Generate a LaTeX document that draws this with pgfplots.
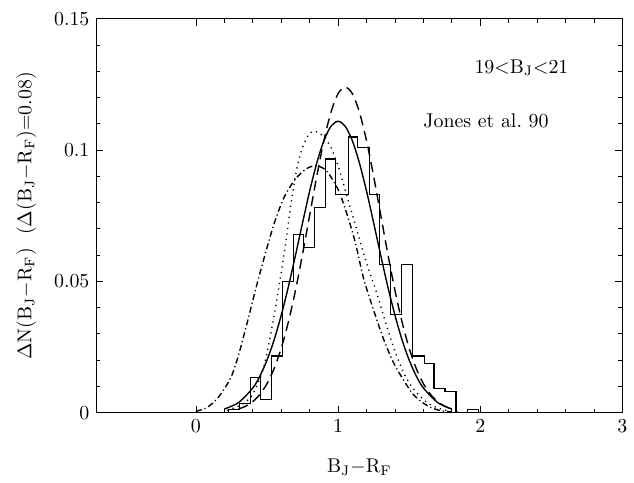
\documentclass[border=0pt]{standalone}
\usepackage{pgfplots}
\pgfplotsset{compat=1.18}
\usetikzlibrary{calc}
\begin{document}
\begin{tikzpicture}
\begin{axis}[
  scale only axis,
  width=264.5pt, height=198pt,
  xmin=-0.7, xmax=3, ymin=0, ymax=0.15,
  xtick={0,1,2,3}, ytick={0,0.05,0.1,0.15},
  yticklabels={0,0.05,0.1,0.15},
  minor x tick num=4, minor y tick num=4,
  tick align=inside, tick pos=both,
  major tick length=3.5pt, minor tick length=2pt,
  axis line style={line width=0.5pt},
  every tick/.style={line width=0.4pt, black},
  xlabel={B$_\mathrm{J}$$-$R$_\mathrm{F}$},
  ylabel={$\Delta$N(B$_\mathrm{J}$$-$R$_\mathrm{F}$)\ \ ($\Delta$(B$_\mathrm{J}$$-$R$_\mathrm{F}$)=0.08)},
  xlabel style={yshift=-6.5pt},
  ylabel style={yshift=2pt},
  clip=true,
]
\coordinate (bl) at (rel axis cs:0,0);
\coordinate (tr) at (rel axis cs:1,1);
% histogram
\addplot[const plot, line width=0.6pt, black] coordinates {
(0.231,0) (0.231,0.0012) (0.308,0.0034) (0.385,0.0133) (0.456,0.0049)
(0.533,0.0216) (0.610,0.050) (0.687,0.068) (0.757,0.063) (0.834,0.078)
(0.911,0.0966) (0.981,0.083) (1.072,0.105) (1.135,0.101) (1.219,0.083)
(1.289,0.0564) (1.367,0.0375) (1.444,0.0564) (1.521,0.0216) (1.605,0.0186)
(1.675,0.0091) (1.752,0.008) (1.829,0.008) (1.829,0)
};
\addplot[line width=0.5pt, black] coordinates {
(1.913,0) (1.913,0.0011) (1.990,0.0011) (1.990,0)
};
% solid model
\addplot[smooth, line width=0.7pt, black] coordinates {
(0.20,0.00138) (0.30,0.00385) (0.40,0.0094) (0.45,0.01394) (0.50,0.0200)
(0.55,0.0277) (0.60,0.0371) (0.65,0.0479) (0.70,0.0599) (0.75,0.0723)
(0.80,0.0844) (0.85,0.0951) (0.90,0.1036) (0.95,0.1091) (1.00,0.111)
(1.05,0.1091) (1.10,0.1036) (1.15,0.0951) (1.20,0.0844) (1.25,0.0723)
(1.30,0.0599) (1.35,0.0479) (1.40,0.0371) (1.45,0.0277) (1.50,0.0200)
(1.55,0.01394) (1.60,0.0094) (1.70,0.00385) (1.80,0.00138)
};
% dashed model
\addplot[smooth, line width=0.7pt, black, dash pattern=on 5pt off 3pt] coordinates {
(0.30,0.00138) (0.35,0.00246) (0.40,0.00422) (0.45,0.00696) (0.50,0.01103)
(0.55,0.01678) (0.60,0.02454) (0.65,0.03447) (0.70,0.04654) (0.75,0.06036)
(0.80,0.07521) (0.85,0.09004) (0.90,0.10358) (0.95,0.11446) (1.00,0.12154)
(1.05,0.124) (1.10,0.12154) (1.15,0.11446) (1.20,0.10358) (1.25,0.09004)
(1.30,0.07521) (1.35,0.06036) (1.40,0.04654) (1.45,0.03447) (1.50,0.02454)
(1.55,0.01678) (1.60,0.01103) (1.65,0.00696) (1.70,0.00422) (1.75,0.00246)
(1.80,0.00138)
};
% dotted model
\addplot[smooth, line width=0.7pt, black, dash pattern=on 0.6pt off 2.2pt] coordinates {
(0.22,0.0008) (0.30,0.0025) (0.36,0.0045) (0.41,0.0080) (0.48,0.0180)
(0.54,0.0340) (0.59,0.0500) (0.63,0.0640) (0.67,0.0800) (0.71,0.0930)
(0.75,0.1010) (0.80,0.1065) (0.85,0.1070) (0.90,0.1050) (0.95,0.1010)
(1.00,0.0940) (1.065,0.0820) (1.135,0.0690) (1.20,0.0570) (1.275,0.0450)
(1.33,0.0350) (1.39,0.0250) (1.45,0.0165) (1.51,0.0105) (1.577,0.0062)
(1.65,0.0030) (1.75,0.0010) (1.85,0.0003)
};
% dash-dot model
\addplot[smooth, line width=0.7pt, black, dash pattern=on 3pt off 1.5pt on 0.6pt off 1.5pt] coordinates {
(0.0,0.0005) (0.08,0.002) (0.16,0.006) (0.245,0.0133) (0.30,0.022)
(0.364,0.035) (0.42,0.047) (0.48,0.059) (0.55,0.072) (0.62,0.082)
(0.70,0.089) (0.78,0.093) (0.85,0.094) (0.92,0.092) (1.0,0.085)
(1.06,0.076) (1.12,0.065) (1.18,0.051) (1.25,0.039) (1.32,0.028)
(1.39,0.019) (1.465,0.012) (1.52,0.0075) (1.577,0.0045) (1.65,0.002)
(1.72,0.0008) (1.8,0.0002)
};
\node at (axis cs:2.29,0.1314) {19$<$B$_\mathrm{J}$$<$21};
\node at (axis cs:2.04,0.111) {Jones et al.\ 90};
\end{axis}
\useasboundingbox ($(bl)+(-48.5pt,-27pt)$) rectangle ($(tr)+(4pt,9.5pt)$);
\end{tikzpicture}
\end{document}
